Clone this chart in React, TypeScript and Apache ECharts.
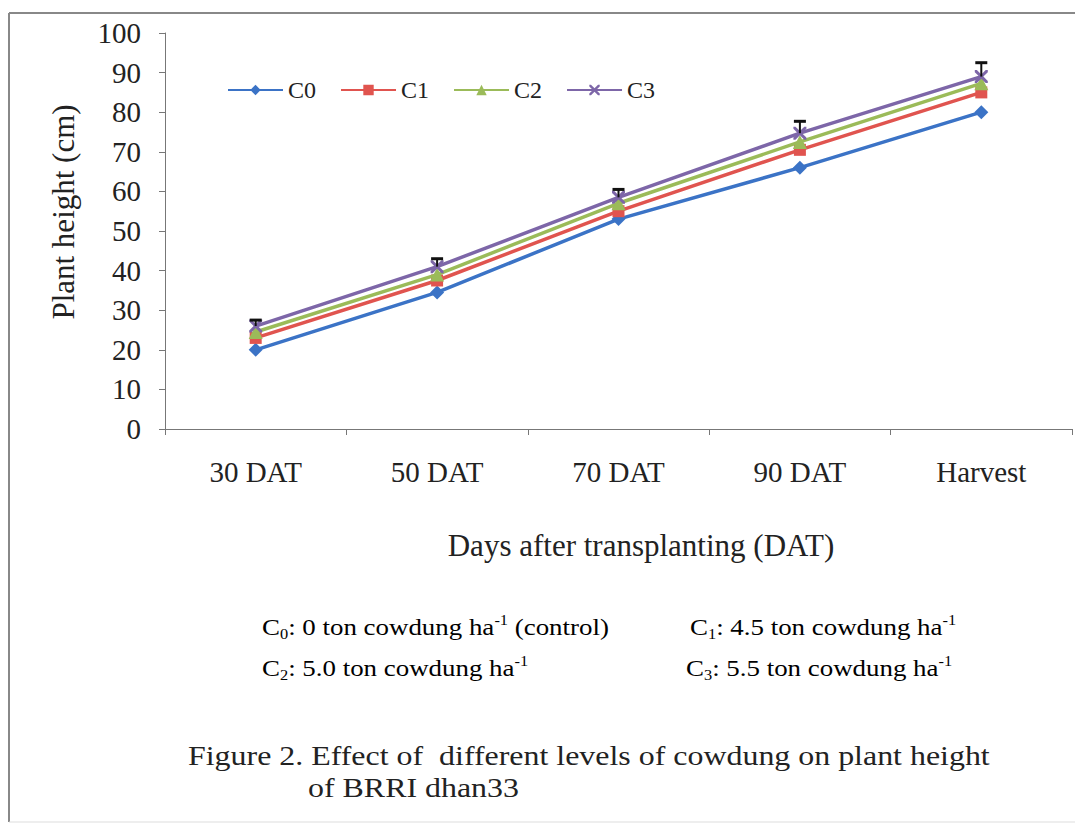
import React, { useEffect, useRef } from "react";
import * as echarts from "echarts";

const categories = ["30 DAT", "50 DAT", "70 DAT", "90 DAT", "Harvest"];
const seriesNames = ["C0", "C1", "C2", "C3"];
const c0 = [20, 34.5, 53, 66, 80];
const c1 = [23, 37.5, 55, 70.5, 85];
const c2 = [24.5, 39, 57, 72.5, 87.3];
const c3 = [26, 41, 58.5, 74.7, 89];
const c3Err = [1.5, 2, 2, 3, 3.5];
const yTicks = [0, 10, 20, 30, 40, 50, 60, 70, 80, 90, 100];

const FONT = "'Liberation Serif', 'Times New Roman', serif";
const TXT = "#222";
const colors = ["#3b73c6", "#e0544f", "#9bbb59", "#7d66a8"];
const xSymbol =
  "path://M0,0 L1.6,0 L5,3.4 L8.4,0 L10,0 L10,1.6 L6.6,5 L10,8.4 L10,10 L8.4,10 L5,6.6 L1.6,10 L0,10 L0,8.4 L3.4,5 L0,1.6 Z";

export default function App() {
  const ref = useRef<HTMLDivElement>(null);
  useEffect(() => {
    document.body.style.margin = "0";
    const chart = echarts.init(ref.current!, null, { renderer: "svg" });
    const data = [c0, c1, c2, c3];
    const symbols = ["diamond", "rect", "triangle", xSymbol];
    const sizes = [14, 12, 14, 13];
    const lineSeries = data.map((d, i) => ({
      name: seriesNames[i],
      type: "line",
      data: d,
      symbol: symbols[i],
      symbolSize: sizes[i],
      z: 2 + i,
      lineStyle: { color: colors[i], width: 3.5 },
      itemStyle: { color: colors[i] },
    }));
    const rich = {
      n: { fontSize: 23, fontFamily: FONT, color: TXT, lineHeight: 28 },
      sub: { fontSize: 14, fontFamily: FONT, color: TXT, lineHeight: 14, verticalAlign: "bottom" },
      sup: { fontSize: 14, fontFamily: FONT, color: TXT, lineHeight: 14, verticalAlign: "top" },
    };
    const note = (x: number, y: number, idx: string, body: string, tail: string) => ({
      type: "text",
      x,
      y,
      scaleX: 1.17,
      style: {
        text: `{n|C}{sub|${idx}}{n|: ${body} ha}{sup|-1}${tail ? `{n|${tail}}` : ""}`,
        rich,
        verticalAlign: "middle",
      },
    });
    chart.setOption({
      animation: false,
      backgroundColor: "#fff",
      grid: { left: 165, right: 3, top: 33, bottom: 398 },
      legend: {
        left: 222,
        top: 73,
        itemWidth: 55,
        itemHeight: 13,
        itemGap: 24,
        data: seriesNames,
        textStyle: { fontFamily: FONT, fontSize: 24, color: TXT },
      },
      xAxis: {
        type: "category",
        data: categories,
        boundaryGap: true,
        axisLine: { lineStyle: { color: "#777", width: 1 } },
        axisTick: { show: true, length: 6, lineStyle: { color: "#777" } },
        axisLabel: { fontFamily: FONT, fontSize: 29, color: TXT, margin: 28 },
      },
      yAxis: {
        type: "value",
        min: yTicks[0],
        max: yTicks[yTicks.length - 1],
        interval: 10,
        splitLine: { show: false },
        axisLine: { show: true, lineStyle: { color: "#777", width: 1 } },
        axisTick: { show: true, length: 6, lineStyle: { color: "#777" } },
        axisLabel: { fontFamily: FONT, fontSize: 29, color: TXT, margin: 24 },
      },
      series: [
        ...lineSeries,
        {
          type: "custom",
          name: "err",
          z: 10,
          data: c3.map((v, i) => [i, v, v + c3Err[i]]),
          renderItem: (params: any, api: any) => {
            const x = api.value(0);
            const p0 = api.coord([x, api.value(1)]);
            const p1 = api.coord([x, api.value(2)]);
            return {
              type: "group",
              children: [
                { type: "line", shape: { x1: p0[0], y1: p0[1], x2: p1[0], y2: p1[1] }, style: { stroke: "#111", lineWidth: 2 } },
                { type: "line", shape: { x1: p1[0] - 6, y1: p1[1], x2: p1[0] + 6, y2: p1[1] }, style: { stroke: "#111", lineWidth: 3 } },
              ],
            };
          },
        },
      ],
      graphic: [
        { type: "line", shape: { x1: 9, y1: 13, x2: 1075, y2: 13 }, style: { stroke: "#888", lineWidth: 2 } },
        { type: "line", shape: { x1: 9, y1: 13, x2: 9, y2: 822 }, style: { stroke: "#888", lineWidth: 2 } },
        { type: "line", shape: { x1: 9, y1: 822, x2: 1075, y2: 822 }, style: { stroke: "#ddd", lineWidth: 1 } },
        {
          type: "text",
          x: 63,
          y: 212,
          rotation: Math.PI / 2,
          style: { text: "Plant height (cm)", fontFamily: FONT, fontSize: 31, fill: TXT, align: "center", verticalAlign: "middle" },
        },
        {
          type: "text",
          x: 641,
          y: 545,
          style: { text: "Days after transplanting (DAT)", fontFamily: FONT, fontSize: 31, fill: TXT, align: "center", verticalAlign: "middle" },
        },
        note(262, 627, "0", "0 ton cowdung", " (control)"),
        note(690, 627, "1", "4.5 ton cowdung", ""),
        note(262, 668, "2", "5.0 ton cowdung", ""),
        note(686, 668, "3", "5.5 ton cowdung", ""),
        {
          type: "text",
          x: 188,
          y: 755,
          scaleX: 1.14,
          style: { text: "Figure 2. Effect of  different levels of cowdung on plant height", fontFamily: FONT, fontSize: 28, fill: TXT, verticalAlign: "middle" },
        },
        {
          type: "text",
          x: 308,
          y: 787,
          scaleX: 1.14,
          style: { text: "of BRRI dhan33", fontFamily: FONT, fontSize: 28, fill: TXT, verticalAlign: "middle" },
        },
      ],
    });
    return () => chart.dispose();
  }, []);
  return <div ref={ref} style={{ position: "absolute", left: 0, top: 0, width: 1075, height: 827 }} />;
}
